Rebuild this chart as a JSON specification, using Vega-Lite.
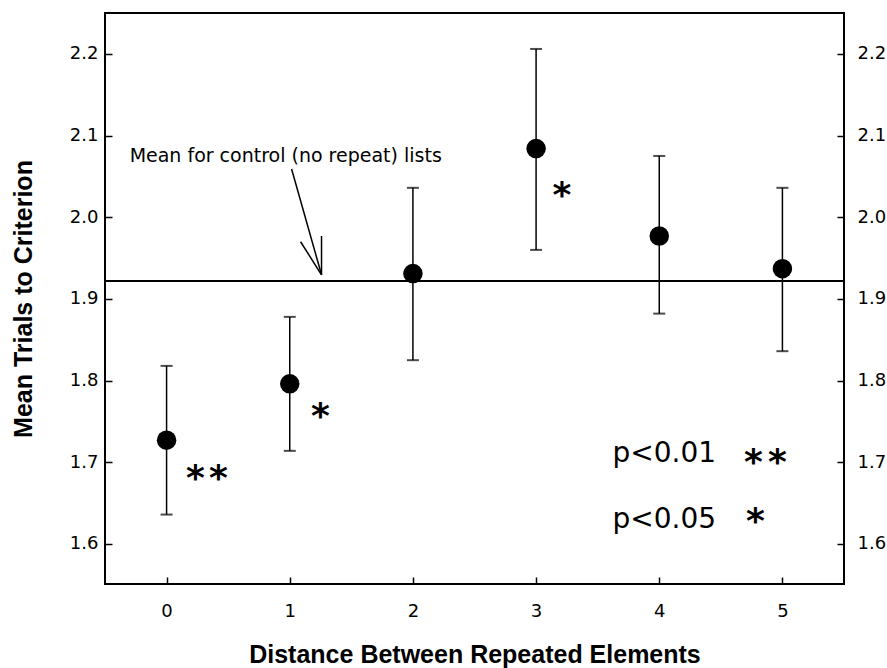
{
  "$schema": "https://vega.github.io/schema/vega-lite/v6.json",
  "width": 739,
  "height": 571,
  "autosize": "none",
  "padding": {"left": 105, "top": 13, "right": 43, "bottom": 84},
  "background": "white",
  "config": {
    "view": {"stroke": "black", "strokeWidth": 2},
    "axis": {
      "grid": false,
      "domain": false,
      "labelFont": "DejaVu Sans",
      "labelFontSize": 18,
      "labelColor": "black",
      "tickColor": "black",
      "tickWidth": 1.5,
      "tickSize": -7,
      "titleFont": "Liberation Sans",
      "titleFontWeight": "bold",
      "titleFontSize": 25,
      "titleColor": "black"
    }
  },
  "datasets": {
    "pts": [
      {"d": 0, "mean": 1.727, "lo": 1.636, "hi": 1.818},
      {"d": 1, "mean": 1.796, "lo": 1.714, "hi": 1.878},
      {"d": 2, "mean": 1.931, "lo": 1.825, "hi": 2.036},
      {"d": 3, "mean": 2.084, "lo": 1.960, "hi": 2.206},
      {"d": 4, "mean": 1.977, "lo": 1.882, "hi": 2.075},
      {"d": 5, "mean": 1.937, "lo": 1.836, "hi": 2.036}
    ],
    "control": [
      {"ctrl": 1.922}
    ],
    "stars": [
      {"x": 0.235, "y": 1.690},
      {"x": 0.421, "y": 1.690},
      {"x": 1.248, "y": 1.766},
      {"x": 3.209, "y": 2.037},
      {"x": 4.765, "y": 1.710},
      {"x": 4.959, "y": 1.710},
      {"x": 4.781, "y": 1.638}
    ],
    "legend": [
      {"x": 3.62, "y": 1.7006, "t": "p<0.01"},
      {"x": 3.62, "y": 1.620, "t": "p<0.05"}
    ],
    "note": [
      {"x": -0.30, "y": 2.068, "t": "Mean for control (no repeat) lists"}
    ],
    "arrow": [
      {"x": 1.015, "y": 2.059, "x2": 1.258, "y2": 1.9295},
      {"x": 1.088, "y": 1.970, "x2": 1.258, "y2": 1.9295},
      {"x": 1.258, "y": 1.977, "x2": 1.258, "y2": 1.9295}
    ]
  },
  "resolve": {"axis": {"y": "independent"}},
  "layer": [
    {
      "data": {"name": "control"},
      "mark": {"type": "rule", "color": "black", "strokeWidth": 2},
      "encoding": {
        "y": {"field": "ctrl", "type": "quantitative", "scale": {"domain": [1.551, 2.25], "nice": false, "zero": false}, "axis": null}
      }
    },
    {
      "data": {"name": "pts"},
      "mark": {"type": "rule", "color": "black", "strokeWidth": 1.5},
      "encoding": {
        "x": {"field": "d", "type": "quantitative", "scale": {"domain": [-0.5, 5.5], "nice": false, "zero": false},
              "axis": {"values": [0, 1, 2, 3, 4, 5], "format": "d", "labelPadding": 25, "title": "Distance Between Repeated Elements", "titlePadding": 22}},
        "y": {"field": "lo", "type": "quantitative", "scale": {"domain": [1.551, 2.25], "nice": false, "zero": false},
              "axis": {"orient": "left", "values": [1.6, 1.7, 1.8, 1.9, 2.0, 2.1, 2.2], "format": ".1f", "labelPadding": 14, "title": "Mean Trials to Criterion", "titlePadding": 33}},
        "y2": {"field": "hi"}
      }
    },
    {
      "data": {"name": "pts"},
      "mark": {"type": "tick", "orient": "horizontal", "color": "black", "size": 12, "thickness": 2},
      "encoding": {
        "x": {"field": "d", "type": "quantitative"},
        "y": {"field": "lo", "type": "quantitative", "scale": {"domain": [1.551, 2.25], "nice": false, "zero": false}, "axis": null}
      }
    },
    {
      "data": {"name": "pts"},
      "mark": {"type": "tick", "orient": "horizontal", "color": "black", "size": 12, "thickness": 2},
      "encoding": {
        "x": {"field": "d", "type": "quantitative"},
        "y": {"field": "hi", "type": "quantitative", "scale": {"domain": [1.551, 2.25], "nice": false, "zero": false}, "axis": null}
      }
    },
    {
      "data": {"name": "pts"},
      "mark": {"type": "circle", "color": "black", "opacity": 1, "size": 380},
      "encoding": {
        "x": {"field": "d", "type": "quantitative"},
        "y": {"field": "mean", "type": "quantitative", "scale": {"domain": [1.551, 2.25], "nice": false, "zero": false},
              "axis": {"orient": "right", "values": [1.6, 1.7, 1.8, 1.9, 2.0, 2.1, 2.2], "format": ".1f", "labelPadding": 20, "title": null}}
      }
    },
    {
      "data": {"name": "arrow"},
      "mark": {"type": "rule", "color": "black", "strokeWidth": 1.5},
      "encoding": {
        "x": {"field": "x", "type": "quantitative"},
        "y": {"field": "y", "type": "quantitative", "scale": {"domain": [1.551, 2.25], "nice": false, "zero": false}, "axis": null},
        "x2": {"field": "x2"},
        "y2": {"field": "y2"}
      }
    },
    {
      "data": {"name": "stars"},
      "mark": {"type": "text", "text": "*", "font": "DejaVu Sans", "fontWeight": "bold", "fontSize": 36, "align": "center", "baseline": "alphabetic", "dy": 20, "color": "black"},
      "encoding": {
        "x": {"field": "x", "type": "quantitative"},
        "y": {"field": "y", "type": "quantitative", "scale": {"domain": [1.551, 2.25], "nice": false, "zero": false}, "axis": null}
      }
    },
    {
      "data": {"name": "legend"},
      "mark": {"type": "text", "font": "DejaVu Sans", "fontSize": 28, "align": "left", "baseline": "alphabetic", "color": "black"},
      "encoding": {
        "x": {"field": "x", "type": "quantitative"},
        "y": {"field": "y", "type": "quantitative", "scale": {"domain": [1.551, 2.25], "nice": false, "zero": false}, "axis": null},
        "text": {"field": "t"}
      }
    },
    {
      "data": {"name": "note"},
      "mark": {"type": "text", "font": "DejaVu Sans", "fontSize": 19, "align": "left", "baseline": "alphabetic", "color": "black"},
      "encoding": {
        "x": {"field": "x", "type": "quantitative"},
        "y": {"field": "y", "type": "quantitative", "scale": {"domain": [1.551, 2.25], "nice": false, "zero": false}, "axis": null},
        "text": {"field": "t"}
      }
    }
  ]
}
